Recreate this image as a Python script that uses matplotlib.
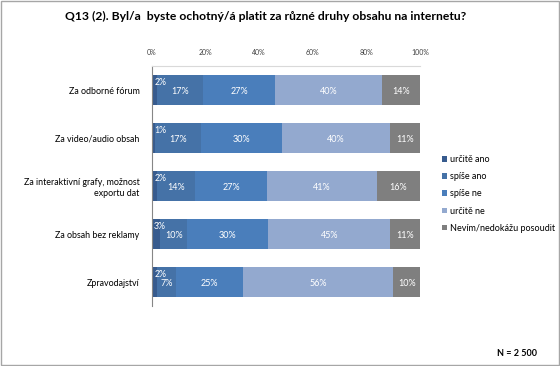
import numpy as np
import matplotlib.pyplot as plt
from matplotlib.patches import Rectangle

plt.rcParams['font.family'] = ['Lato', 'DejaVu Sans']

Categories = ['Za odborné fórum', 'Za video/audio obsah',
              'Za interaktivní grafy, možnost\nexportu dat',
              'Za obsah bez reklamy', 'Zpravodajství']
SeriesNames = ['určitě ano', 'spíše ano', 'spíše ne', 'určitě ne', 'Nevím/nedokážu posoudit']
Values = np.array([
    [2, 17, 27, 40, 14],
    [1, 17, 30, 40, 11],
    [2, 14, 27, 41, 16],
    [3, 10, 30, 45, 11],
    [2, 7, 25, 56, 10],
])
Colors = ['#375B8E', '#4572A7', '#4A7EBB', '#93A9CF', '#7F7F7F']
XTicks = [0, 20, 40, 60, 80, 100]

fig = plt.figure(figsize=(5.6, 3.66), dpi=100)
ax = fig.add_axes([152/560, 1-306/366, 268/560, 240/366])

NumberOfRows = len(Categories)
YPos = np.arange(NumberOfRows)
Left = np.zeros(NumberOfRows)
Total = Values.sum(axis=1)
for Series in range(len(SeriesNames)):
    Widths = Values[:, Series] / Total * 100
    ax.barh(YPos, Widths, left=Left, height=0.62, color=Colors[Series], label=SeriesNames[Series])
    for Row in range(NumberOfRows):
        Text = str(Values[Row, Series]) + '%'
        if Values[Row, Series] < 5:
            ax.text(Left[Row] + 0.8, YPos[Row] - 0.15, Text, ha='left', va='center', color='white', fontsize=6.3)
        else:
            ax.text(Left[Row] + Widths[Row] / 2, YPos[Row] + 0.04, Text, ha='center', va='center', color='white', fontsize=6.5)
    Left = Left + Widths

ax.set_xlim(0, 100)
ax.set_ylim(NumberOfRows - 0.5, -0.5)
ax.xaxis.tick_top()
ax.set_xticks(XTicks)
ax.set_xticklabels([str(t) + '%' for t in XTicks], fontsize=5)
ax.tick_params(axis='x', length=0, pad=7, colors='#404040')
ax.set_yticks(YPos)
ax.set_yticklabels(Categories, fontsize=6.4, linespacing=1.3)
ax.tick_params(axis='y', length=0, pad=9)
for s in ['right', 'bottom']:
    ax.spines[s].set_visible(False)
ax.spines['left'].set_color('#868686')
ax.spines['top'].set_color('#D9D9D9')

ax.legend(loc='center left', bbox_to_anchor=(442/560, 1-194/366), bbox_transform=fig.transFigure,
          frameon=False, fontsize=6.5, borderpad=0, borderaxespad=0, handlelength=0.6, handleheight=0.6,
          handletextpad=0.3, labelspacing=0.9)

fig.text(0.475, 1-16/366, 'Q13 (2). Byl/a  byste ochotný/á platit za různé druhy obsahu na internetu?',
         ha='center', va='center', fontsize=8.7, fontweight='bold')
fig.text(537/560, 1-353/366, 'N = 2 500', ha='right', va='center', fontsize=6.5, fontweight='bold')
fig.patches.append(Rectangle((0.001, 0.002), 0.997, 0.996, transform=fig.transFigure,
                             fill=False, edgecolor='#A6A6A6', linewidth=1))

fig.savefig('out.png', dpi=100)
